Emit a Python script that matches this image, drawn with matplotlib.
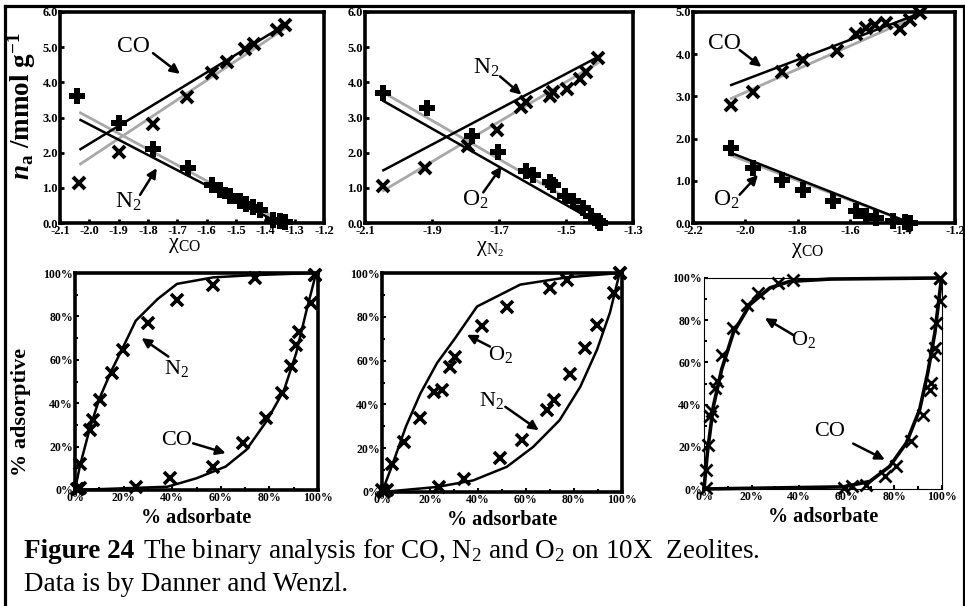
import matplotlib
matplotlib.use("Agg")
import matplotlib.pyplot as plt
from matplotlib.lines import Line2D

plt.rcParams['font.family'] = ['Liberation Serif', 'DejaVu Serif']
plt.rcParams['mathtext.fontset'] = 'custom'
plt.rcParams['mathtext.rm'] = 'Liberation Serif'
plt.rcParams['mathtext.it'] = 'Liberation Serif:italic'
plt.rcParams['mathtext.bf'] = 'Liberation Serif:bold'
plt.rcParams['mathtext.bfit'] = 'Liberation Serif:italic:bold'

# ---------------- data: log-mole-fraction plots (top row) ----------------
# (a) CO / N2, x = chi_CO
a_co_x = [-2.035, -1.900, -1.782, -1.668, -1.583, -1.532, -1.469, -1.440, -1.361, -1.333]
a_co_y = [1.14, 2.02, 2.82, 3.58, 4.26, 4.59, 4.94, 5.10, 5.49, 5.62]
a_n2_x = [-2.043, -1.900, -1.782, -1.662, -1.583, -1.555, -1.521, -1.487, -1.465,
          -1.441, -1.418, -1.373, -1.351, -1.334]
a_n2_y = [3.60, 2.85, 2.11, 1.56, 1.09, 0.95, 0.76, 0.62, 0.53, 0.45, 0.36, 0.09, 0.05, 0.03]
a_fit_x = [-2.03, -1.33]
a_co_fit = [2.10, 5.65]
a_co_fit_gray = [1.68, 5.55]
a_n2_fit_x = [-2.03, -1.36]
a_n2_fit = [2.93, 0.03]
a_n2_fit_gray = [3.13, 0.12]

# (b) N2 / O2, x = chi_N2
b_n2_x = [-2.045, -1.921, -1.792, -1.707, -1.633, -1.618, -1.548, -1.538, -1.498, -1.459, -1.439, -1.405]
b_n2_y = [1.04, 1.56, 2.18, 2.65, 3.31, 3.45, 3.60, 3.72, 3.80, 4.10, 4.30, 4.69]
b_o2_x = [-2.045, -1.916, -1.782, -1.703, -1.618, -1.598, -1.548, -1.538, -1.504, -1.480,
          -1.450, -1.424, -1.404, -1.398]
b_o2_y = [3.69, 3.27, 2.46, 2.03, 1.47, 1.37, 1.18, 1.08, 0.76, 0.62, 0.43, 0.19, 0.05, 0.00]
b_fit_x = [-2.045, -1.405]
b_n2_fit = [1.50, 4.72]
b_n2_fit_gray = [0.92, 4.55]
b_o2_fit = [3.47, 0.00]
b_o2_fit_gray = [3.71, 0.20]

# (c) CO / O2, x = chi_CO
c_co_x = [-2.054, -1.971, -1.862, -1.779, -1.652, -1.576, -1.538, -1.506, -1.462, -1.410, -1.370, -1.334]
c_co_y = [2.80, 3.11, 3.59, 3.86, 4.08, 4.49, 4.61, 4.69, 4.73, 4.60, 4.80, 4.98]
c_o2_x = [-2.054, -1.971, -1.862, -1.779, -1.665, -1.576, -1.538, -1.500, -1.436, -1.390, -1.370]
c_o2_y = [1.77, 1.30, 1.02, 0.79, 0.51, 0.28, 0.16, 0.12, 0.04, 0.02, 0.00]
c_co_fit_x = [-2.054, -1.334]
c_co_fit = [3.27, 4.97]
c_co_fit_gray = [2.95, 4.93]
c_o2_fit_x = [-2.054, -1.370]
c_o2_fit = [1.66, 0.00]
c_o2_fit_gray = [1.60, 0.00]

# ---------------- data: x-y phase diagrams (bottom row, %) ----------------
# (d) CO / N2
d_n2_x = [0.7, 2.0, 2.0, 6.2, 7.5, 10.3, 15.1, 19.9, 30.1, 41.8, 56.8, 74.0, 98.6]
d_n2_y = [0.3, 0.8, 12.0, 27.7, 32.3, 41.5, 53.8, 64.6, 76.9, 87.7, 94.6, 97.7, 99.2]
d_n2_cx = [0, 2, 6, 10, 15, 19, 25, 34, 42, 57, 73, 99]
d_n2_cy = [0, 11, 28, 42, 55, 64, 78, 88, 95, 98, 99, 100]
d_co_x = [1.4, 25.0, 39.0, 56.8, 69.0, 78.8, 85.0, 89.0, 91.0, 92.0, 97.0, 98.6]
d_co_y = [0.3, 1.5, 5.4, 10.8, 21.5, 33.0, 44.6, 57.0, 67.0, 73.0, 86.0, 99.2]
d_co_cx = [0, 38, 50, 62, 70.5, 79, 86, 91, 95, 99]
d_co_cy = [0, 1.5, 5.4, 10.8, 18.5, 32, 46, 63, 81.5, 99]

# (e) N2 / O2
e_o2_x = [0.0, 4.2, 9.0, 16.0, 21.5, 25.0, 28.5, 30.6, 41.7, 52.0, 70.0, 77.0, 99.0]
e_o2_y = [0.8, 13.0, 22.9, 33.6, 45.8, 46.6, 57.0, 61.8, 75.6, 84.7, 93.0, 97.0, 100.0]
e_o2_cx = [0, 4, 10, 16, 23, 30, 39.6, 57.6, 77, 99]
e_o2_cy = [0, 11.5, 30, 45, 59, 69.5, 84.7, 94.7, 98, 100]
e_n2_x = [0.7, 2.0, 23.6, 34.0, 49.3, 58.3, 68.8, 71.5, 78.5, 84.7, 89.6, 96.5, 99.0]
e_n2_y = [0.0, 0.8, 2.3, 6.1, 15.3, 23.7, 37.4, 42.0, 54.0, 65.6, 76.3, 90.8, 100.0]
e_n2_cx = [0, 23, 38, 52, 63, 74, 82.6, 89.6, 95, 99]
e_n2_cy = [0, 2.3, 5.3, 11.5, 20.6, 32.8, 48, 65, 82, 100]

# (f) CO / O2
f_o2_x = [0.8, 0.8, 1.8, 2.5, 3.2, 4.6, 5.6, 7.4, 12.3, 17.9, 22.8, 31.2, 37.5, 99.0]
f_o2_y = [0.5, 9.2, 21.0, 34.4, 36.8, 47.9, 51.0, 63.7, 76.3, 87.4, 92.9, 97.6, 98.9, 100.0]
f_o2_cx = [0, 1.4, 3.9, 7.4, 12.3, 19.3, 27.7, 36, 53, 99]
f_o2_cy = [0, 17, 39, 56.6, 74, 87.4, 95.3, 98.4, 99.5, 100]
f_co_x = [59.0, 62.0, 68.0, 76.0, 80.8, 87.0, 92.0, 94.8, 95.5, 96.2, 97.0, 97.6, 99.0, 99.0]
f_co_y = [0.5, 1.3, 2.0, 6.0, 10.7, 22.6, 35.2, 47.0, 50.2, 63.7, 66.8, 78.7, 89.0, 100.0]
f_co_cx = [0, 58.5, 69.7, 78, 85, 90.6, 94, 97, 99.7]
f_co_cy = [0, 1, 3.6, 10.7, 21.8, 37.6, 55, 74, 99]

W, H = 965, 606
fig = plt.figure(figsize=(W / 100, H / 100), dpi=100)


def add_ax(l, t, r, b):
    return fig.add_axes([l / W, 1 - b / H, (r - l) / W, (b - t) / H])


def style_top(ax, xticks, yticks):
    ax.set_xlim(xticks[0], xticks[-1])
    ax.set_ylim(yticks[0], yticks[-1])
    ax.set_xticks(xticks)
    ax.set_yticks(yticks)
    ax.set_xticklabels([f"{v:.1f}" for v in xticks], fontweight='bold')
    ax.set_yticklabels([f"{v:.1f}" for v in yticks], fontweight='bold')
    for s in ax.spines.values():
        s.set_linewidth(2.6)
    ax.tick_params(direction='in', length=3, width=2, labelsize=9, pad=1.5)


def style_bottom(ax, spine_lw):
    ax.set_xlim(0, 100)
    ax.set_ylim(0, 100)
    ticks = [0, 20, 40, 60, 80, 100]
    ax.set_xticks(ticks)
    ax.set_yticks(ticks)
    ax.set_xticks(range(0, 101, 10), minor=True)
    ax.set_yticks(range(0, 101, 10), minor=True)
    ax.set_xticklabels([f"{v}%" for v in ticks], fontweight='bold')
    ax.set_yticklabels([f"{v}%" for v in ticks], fontweight='bold')
    for s in ax.spines.values():
        s.set_linewidth(spine_lw)
    ax.tick_params(which='both', direction='in', length=3, width=1.5, labelsize=8.5, pad=1.5)
    ax.tick_params(which='minor', length=2)


def arrow(ax, start, tip):
    ax.annotate('', xy=tip, xytext=start,
                arrowprops=dict(arrowstyle='-|>', color='k', lw=1.8,
                                mutation_scale=14, shrinkA=0, shrinkB=0))


def cross(ax, x, y, ms=8.5, mew=2.8):
    ax.plot(x, y, ls='none', marker='x', ms=ms, mew=mew, color='k', clip_on=False, zorder=4)


def plus(ax, x, y):
    ax.plot(x, y, ls='none', marker='P', ms=11.5, mew=0, color='k', clip_on=False, zorder=4)


GRAY = '#a8a8a8'
LBL = dict(fontsize=17, ha='center', va='center')

# ---------------- top row ----------------
ax1 = add_ax(60, 12, 324, 223)
ax1.plot(a_fit_x, a_co_fit_gray, color=GRAY, lw=2)
ax1.plot(a_n2_fit_x, a_n2_fit_gray, color=GRAY, lw=2)
ax1.plot(a_fit_x, a_co_fit, color='k', lw=1.8)
ax1.plot(a_n2_fit_x, a_n2_fit, color='k', lw=1.8)
cross(ax1, a_co_x, a_co_y)
plus(ax1, a_n2_x, a_n2_y)
style_top(ax1, [-2.1, -2.0, -1.9, -1.8, -1.7, -1.6, -1.5, -1.4, -1.3, -1.2],
          [0, 1, 2, 3, 4, 5, 6])
ax1.text(-1.851, 5.01, 'CO', **LBL)
arrow(ax1, (-1.783, 4.83), (-1.691, 4.24))
ax1.text(-1.867, 0.61, 'N$_2$', **LBL)
arrow(ax1, (-1.827, 0.80), (-1.770, 1.56))
ax1.set_ylabel(r'$\mathbfit{n}_{\mathbf{a}}$ /mmol g$^{\mathbf{-1}}$', fontsize=19.5,
               fontweight='bold')
ax1.yaxis.set_label_coords(-22 / 264, (223 - 106) / 211)
fig.text(185 / W, 1 - 245 / H, r'$\mathrm{\chi}_{\mathrm{CO}}$', fontsize=16,
         ha='center', va='center')

ax2 = add_ax(365, 12, 633, 223)
ax2.plot(b_fit_x, b_n2_fit_gray, color=GRAY, lw=2)
ax2.plot(b_fit_x, b_o2_fit_gray, color=GRAY, lw=2)
ax2.plot(b_fit_x, b_n2_fit, color='k', lw=1.8)
ax2.plot(b_fit_x, b_o2_fit, color='k', lw=1.8)
cross(ax2, b_n2_x, b_n2_y)
plus(ax2, b_o2_x, b_o2_y)
style_top(ax2, [-2.1, -1.9, -1.7, -1.5, -1.3], [0, 1, 2, 3, 4, 5, 6])
ax2.text(-1.737, 4.40, 'N$_2$', **LBL)
arrow(ax2, (-1.697, 4.17), (-1.633, 3.65))
ax2.text(-1.772, 0.66, 'O$_2$', **LBL)
arrow(ax2, (-1.747, 0.87), (-1.692, 1.61))
fig.text(490 / W, 1 - 249 / H, r'$\mathrm{\chi}_{\mathrm{N_2}}$', fontsize=16,
         ha='center', va='center')

ax3 = add_ax(693, 12, 955, 223)
ax3.plot(c_co_fit_x, c_co_fit_gray, color=GRAY, lw=2)
ax3.plot(c_o2_fit_x, c_o2_fit_gray, color=GRAY, lw=2)
ax3.plot(c_co_fit_x, c_co_fit, color='k', lw=1.8)
ax3.plot(c_o2_fit_x, c_o2_fit, color='k', lw=1.8)
cross(ax3, c_co_x, c_co_y)
plus(ax3, c_o2_x, c_o2_y)
style_top(ax3, [-2.2, -2.0, -1.8, -1.6, -1.4, -1.2], [0, 1, 2, 3, 4, 5])
ax3.text(-2.079, 4.26, 'CO', **LBL)
arrow(ax3, (-2.022, 4.10), (-1.939, 3.70))
ax3.text(-2.072, 0.55, 'O$_2$', **LBL)
arrow(ax3, (-2.022, 0.67), (-1.952, 1.14))
fig.text(808 / W, 1 - 250 / H, r'$\mathrm{\chi}_{\mathrm{CO}}$', fontsize=16,
         ha='center', va='center')

# ---------------- bottom row ----------------
LB = dict(fontsize=16, ha='center', va='center')
XL = dict(fontsize=14.5, fontweight='bold', labelpad=3)

ax4 = add_ax(75, 273, 318, 490)
ax4.plot(d_n2_cx, d_n2_cy, color='k', lw=1.8, clip_on=False)
ax4.plot(d_co_cx, d_co_cy, color='k', lw=1.8, clip_on=False)
cross(ax4, d_n2_x, d_n2_y, ms=8, mew=2.6)
cross(ax4, d_co_x, d_co_y, ms=8, mew=2.6)
style_bottom(ax4, 2.6)
ax4.text(41.8, 56, 'N$_2$', **LB)
arrow(ax4, (38.4, 61.5), (27.4, 70))
ax4.text(41.8, 23, 'CO', **LB)
arrow(ax4, (48.6, 21.5), (62, 17))
ax4.set_ylabel('% adsorptive', fontsize=16, fontweight='bold')
ax4.yaxis.set_label_coords(-44 / 243, (490 - 412) / 217)
ax4.set_xlabel('% adsorbate', **XL)

ax5 = add_ax(382, 273, 622, 492)
ax5.plot(e_o2_cx, e_o2_cy, color='k', lw=1.8, clip_on=False)
ax5.plot(e_n2_cx, e_n2_cy, color='k', lw=1.8, clip_on=False)
cross(ax5, e_o2_x, e_o2_y, ms=8, mew=2.6)
cross(ax5, e_n2_x, e_n2_y, ms=8, mew=2.6)
style_bottom(ax5, 2.6)
ax5.text(49.3, 62.6, 'O$_2$', **LB)
arrow(ax5, (45, 66.4), (35.4, 71.8))
ax5.text(45.8, 42, 'N$_2$', **LB)
arrow(ax5, (51.4, 38.9), (65.3, 28.2))
ax5.set_xlabel('% adsorbate', **XL)

ax6 = add_ax(704, 278, 942, 489)
ax6.plot(f_o2_cx, f_o2_cy, color='k', lw=2.6, clip_on=False)
ax6.plot(f_co_cx, f_co_cy, color='k', lw=2.6, clip_on=False)
cross(ax6, f_o2_x, f_o2_y, ms=8, mew=2.0)
cross(ax6, f_co_x, f_co_y, ms=8, mew=2.0)
style_bottom(ax6, 0.8)
ax6.text(41.7, 70.8, 'O$_2$', **LB)
arrow(ax6, (37.5, 73), (25.6, 81))
ax6.text(52.9, 27.3, 'CO', **LB)
arrow(ax6, (62.7, 21.5), (76, 13.9))
ax6.set_xlabel('% adsorbate', **XL)

# ---------------- outer frame ----------------
for xs, ys in [([4.5, 4.5], [0, 600]), ([4.5, 963.5], [600, 600]), ([963.5, 963.5], [600, 0])]:
    fig.add_artist(Line2D([x / W for x in xs], [y / H for y in ys], color='k', lw=2.3))

# ---------------- caption ----------------
CAP = 19.5
t1 = fig.text(24 / W, 1 - 558 / H, 'Figure 24', fontsize=CAP, fontweight='bold', va='baseline')
renderer = fig.canvas.get_renderer()
bb = t1.get_window_extent(renderer=renderer)
fig.text(bb.x1 / W + 9 / W, 1 - 558 / H,
         'The binary analysis for CO, N$_2$ and O$_2$ on 10X  Zeolites.',
         fontsize=CAP, va='baseline')
fig.text(24 / W, 1 - 591 / H, 'Data is by Danner and Wenzl.', fontsize=CAP, va='baseline')

fig.savefig('out.png', dpi=100)
